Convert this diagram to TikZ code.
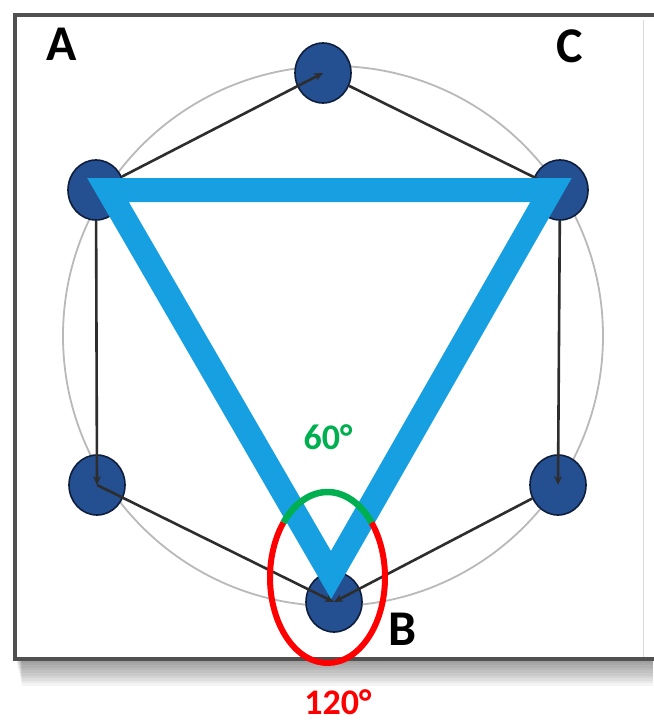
\documentclass[tikz,border=0pt]{standalone}
\usepackage{fontspec}
\setmainfont{Carlito}
\usetikzlibrary{shapes.geometric,arrows.meta}
\definecolor{nodeblue}{RGB}{36,80,145}
\definecolor{nodeedge}{RGB}{14,30,60}
\definecolor{triblue}{RGB}{22,160,226}
\definecolor{angred}{RGB}{255,0,0}
\definecolor{anggreen}{RGB}{0,176,80}
\definecolor{framegray}{RGB}{80,80,80}
\definecolor{hexline}{RGB}{45,45,45}
\begin{document}
\begin{tikzpicture}[x=1pt,y=-1pt,
  vtx/.style={ellipse,minimum width=56pt,minimum height=60pt,inner sep=0pt,fill=nodeblue,draw=nodeedge,line width=1.6pt},
  hexedge/.style={draw=hexline,line width=2.6pt,-{Stealth[length=9pt,width=8pt]}},
  tri/.style={draw=triblue,line width=24pt,line join=miter},
  lbl/.style={font=\fontsize{50}{50}\selectfont\bfseries,text=black,inner sep=0pt},
  ang/.style={font=\fontsize{36}{36}\selectfont\bfseries,inner sep=0pt}]
\useasboundingbox (0,0) rectangle (653,725);
\fill[white] (0,0) rectangle (653,725);
% shadow under frame
\foreach \i in {1,...,10}
  \fill[black,opacity=0.045] (16+\i*0.6,660) rectangle (653,660+\i*2.6);
% frame
\draw[gray!30,line width=1pt] (643,20) -- (643,657);
\draw[framegray,line width=4pt] (680,15) -- (15,15) -- (15,659) -- (680,659);
% circle
\draw[gray!55,line width=1.8pt] (333,336) circle[radius=270];
% vertices
\node[vtx] (T) at (323,73) {};
\node[vtx] (UL) at (96,190) {};
\node[vtx] (UR) at (560,190) {};
\node[vtx] (LL) at (97,485) {};
\node[vtx] (LR) at (558,485) {};
\node[vtx] (B) at (334,602) {};
% hexagon edges
\draw[hexedge] (UL) -- (T.center);
\draw[hexedge] (T) -- (UR.center);
\draw[hexedge] (UR) -- (LR.center);
\draw[hexedge] (UL) -- (LL.center);
\draw[hexedge] (LR) -- (B.center);
\draw[hexedge] (LL.center) -- (B.center);
% triangle
\coordinate (tA) at (108,190);
\coordinate (tC) at (551,190);
\coordinate (tB) at (331,575);
\draw[tri] (tA) -- (tC) -- (tB) -- cycle;
% angle marks
\coordinate (E) at (327.5,577.5);
\draw[angred,line width=6pt] (E) ++(-40:57.5 and 85.5) arc[start angle=-40,end angle=220,x radius=57.5,y radius=85.5];
\draw[anggreen,line width=6.5pt] (E) ++(220:57.5 and 85.5) arc[start angle=220,end angle=320,x radius=57.5,y radius=85.5];
% labels
\node[lbl] (labA) at (62,44) {A};
\node[lbl] (labC) at (570,46) {C};
\node[lbl] (labB) at (403,629) {B};
\node[ang,text=anggreen] (t60) at (328,437) {60°};
\node[ang,text=angred,anchor=base] (t120) at (338,714) {120°};
\end{tikzpicture}
\end{document}
